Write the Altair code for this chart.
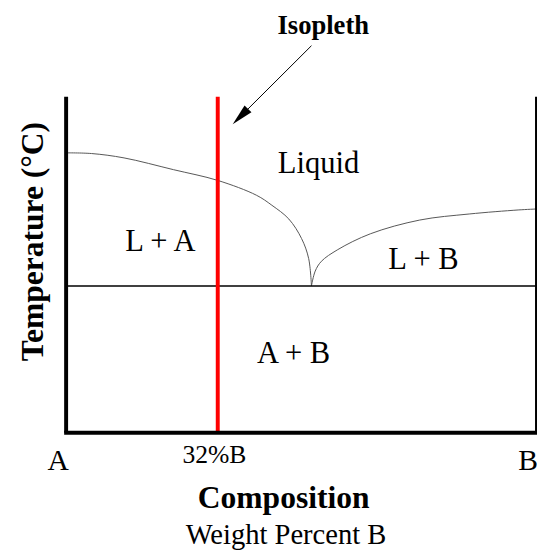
import altair as alt
import pandas as pd

# Liquidus curves (composition %B, temperature in relative units)
liq_left_x = [0, 5.4, 12.3, 22.8, 32.2, 40.4, 43.7, 47.3, 50.0, 51.5, 52.1]
liq_left_y = [83.3, 83.1, 81.8, 78.3, 75.1, 70.7, 67.7, 63.6, 57.8, 51.9, 43.7]
liq_right_x = [52.1, 52.9, 54.2, 57.7, 64.6, 75.1, 85.6, 96.0, 100]
liq_right_y = [43.7, 48.1, 51.0, 54.5, 59.2, 63.3, 65.1, 66.3, 66.6]

eutectic_T = 43.7
isopleth_x = 32.2
x_min, x_max = 0, 100
y_min, y_max = 0, 100

# Region labels
region_text = ["Liquid", "L + A", "L + B", "A + B"]
region_x = [53.6, 20.0, 75.9, 48.3]
region_y = [77.4, 54.0, 48.7, 20.8]

# Composition end labels
end_text = ["A", "B"]
end_x = [-1.7, 98.1]
end_y = [-11.1, -11.1]

# Arrow (annotation for isopleth)
arrow_x = [52.1, 37.0]
arrow_y = [115.2, 94.1]
head_x = [37.0]
head_y = [94.1]

X = alt.X("x:Q", scale=alt.Scale(domain=[x_min, x_max], nice=False, zero=False), axis=None)
Y = alt.Y("y:Q", scale=alt.Scale(domain=[y_min, y_max], nice=False, zero=False), axis=None)

serif = "Liberation Serif"

left_df = pd.DataFrame({"x": liq_left_x, "y": liq_left_y, "o": list(range(len(liq_left_x)))})
right_df = pd.DataFrame({"x": liq_right_x, "y": liq_right_y, "o": list(range(len(liq_right_x)))})

liq_left = alt.Chart(left_df).mark_line(color="#555555", strokeWidth=1, interpolate="catmull-rom").encode(x=X, y=Y, order="o:Q")
liq_right = alt.Chart(right_df).mark_line(color="#555555", strokeWidth=1, interpolate="catmull-rom").encode(x=X, y=Y, order="o:Q")

eut_df = pd.DataFrame({"x": [x_min], "x2": [x_max], "y": [eutectic_T]})
eut = alt.Chart(eut_df).mark_rule(color="black", strokeWidth=1.5).encode(x=X, x2="x2:Q", y=Y)

frame_v_df = pd.DataFrame({"x": [x_min, x_max], "y": [y_min, y_min], "y2": [y_max, y_max]})
frame_v = alt.Chart(frame_v_df).mark_rule(color="black", strokeWidth=4).encode(x=X, y=Y, y2="y2:Q")
frame_b_df = pd.DataFrame({"x": [x_min], "x2": [x_max], "y": [y_min]})
frame_b = alt.Chart(frame_b_df).mark_rule(color="black", strokeWidth=4, strokeCap="square").encode(x=X, x2="x2:Q", y=Y)

iso_df = pd.DataFrame({"x": [isopleth_x], "y": [y_min], "y2": [y_max]})
iso = alt.Chart(iso_df).mark_rule(color="#ff0000", strokeWidth=4).encode(x=X, y=Y, y2="y2:Q")

reg_df = pd.DataFrame({"x": region_x, "y": region_y, "t": region_text})
regions = alt.Chart(reg_df).mark_text(font=serif, fontSize=31, color="black", baseline="alphabetic", align="center").encode(x=X, y=Y, text="t:N")

end_df = pd.DataFrame({"x": end_x, "y": end_y, "t": end_text})
ends = alt.Chart(end_df).mark_text(font=serif, fontSize=30, color="black", baseline="alphabetic", align="center").encode(x=X, y=Y, text="t:N")

pct_df = pd.DataFrame({"x": [31.5], "y": [-9.1], "t": ["32%B"]})
pct = alt.Chart(pct_df).mark_text(font=serif, fontSize=26, color="black", baseline="alphabetic", align="center").encode(x=X, y=Y, text="t:N")

comp_df = pd.DataFrame({"x": [46.2], "y": [-22.3], "t": ["Composition"]})
comp = alt.Chart(comp_df).mark_text(font=serif, fontSize=32, fontWeight="bold", color="black", baseline="alphabetic", align="center").encode(x=X, y=Y, text="t:N")

wp_df = pd.DataFrame({"x": [46.7], "y": [-33.1], "t": ["Weight Percent B"]})
wp = alt.Chart(wp_df).mark_text(font=serif, fontSize=29, color="black", baseline="alphabetic", align="center").encode(x=X, y=Y, text="t:N")

temp_df = pd.DataFrame({"x": [-5.0], "y": [56.9], "t": ["Temperature (°C)"]})
temp = alt.Chart(temp_df).mark_text(font=serif, fontSize=32, fontWeight="bold", color="black", baseline="alphabetic", align="center", angle=270).encode(x=X, y=Y, text="t:N")

iso_lbl_df = pd.DataFrame({"x": [54.6], "y": [118.8], "t": ["Isopleth"]})
iso_lbl = alt.Chart(iso_lbl_df).mark_text(font=serif, fontSize=27, fontWeight="bold", color="black", baseline="alphabetic", align="center").encode(x=X, y=Y, text="t:N")

arrow_df = pd.DataFrame({"x": arrow_x, "y": arrow_y, "o": [0, 1]})
arrow = alt.Chart(arrow_df).mark_line(color="black", strokeWidth=1).encode(x=X, y=Y, order="o:Q")

head_df = pd.DataFrame({"x": head_x, "y": head_y})
head = alt.Chart(head_df).mark_point(shape="M0,-1L0.45,1L-0.45,1Z", size=484, angle=225, filled=True, color="black", opacity=1, strokeWidth=0).encode(x=X, y=Y)

chart = alt.layer(
    liq_left, liq_right, eut, iso, frame_v, frame_b,
    regions, ends, pct, comp, wp, temp, iso_lbl, arrow, head
).properties(
    width=478, height=341,
    autosize=alt.AutoSizeParams(type="none"),
    padding={"left": 59, "top": 86, "right": 0, "bottom": 116},
).configure_view(stroke=None)

chart.save("out.html", embed_options={"renderer": "svg", "actions": False})
